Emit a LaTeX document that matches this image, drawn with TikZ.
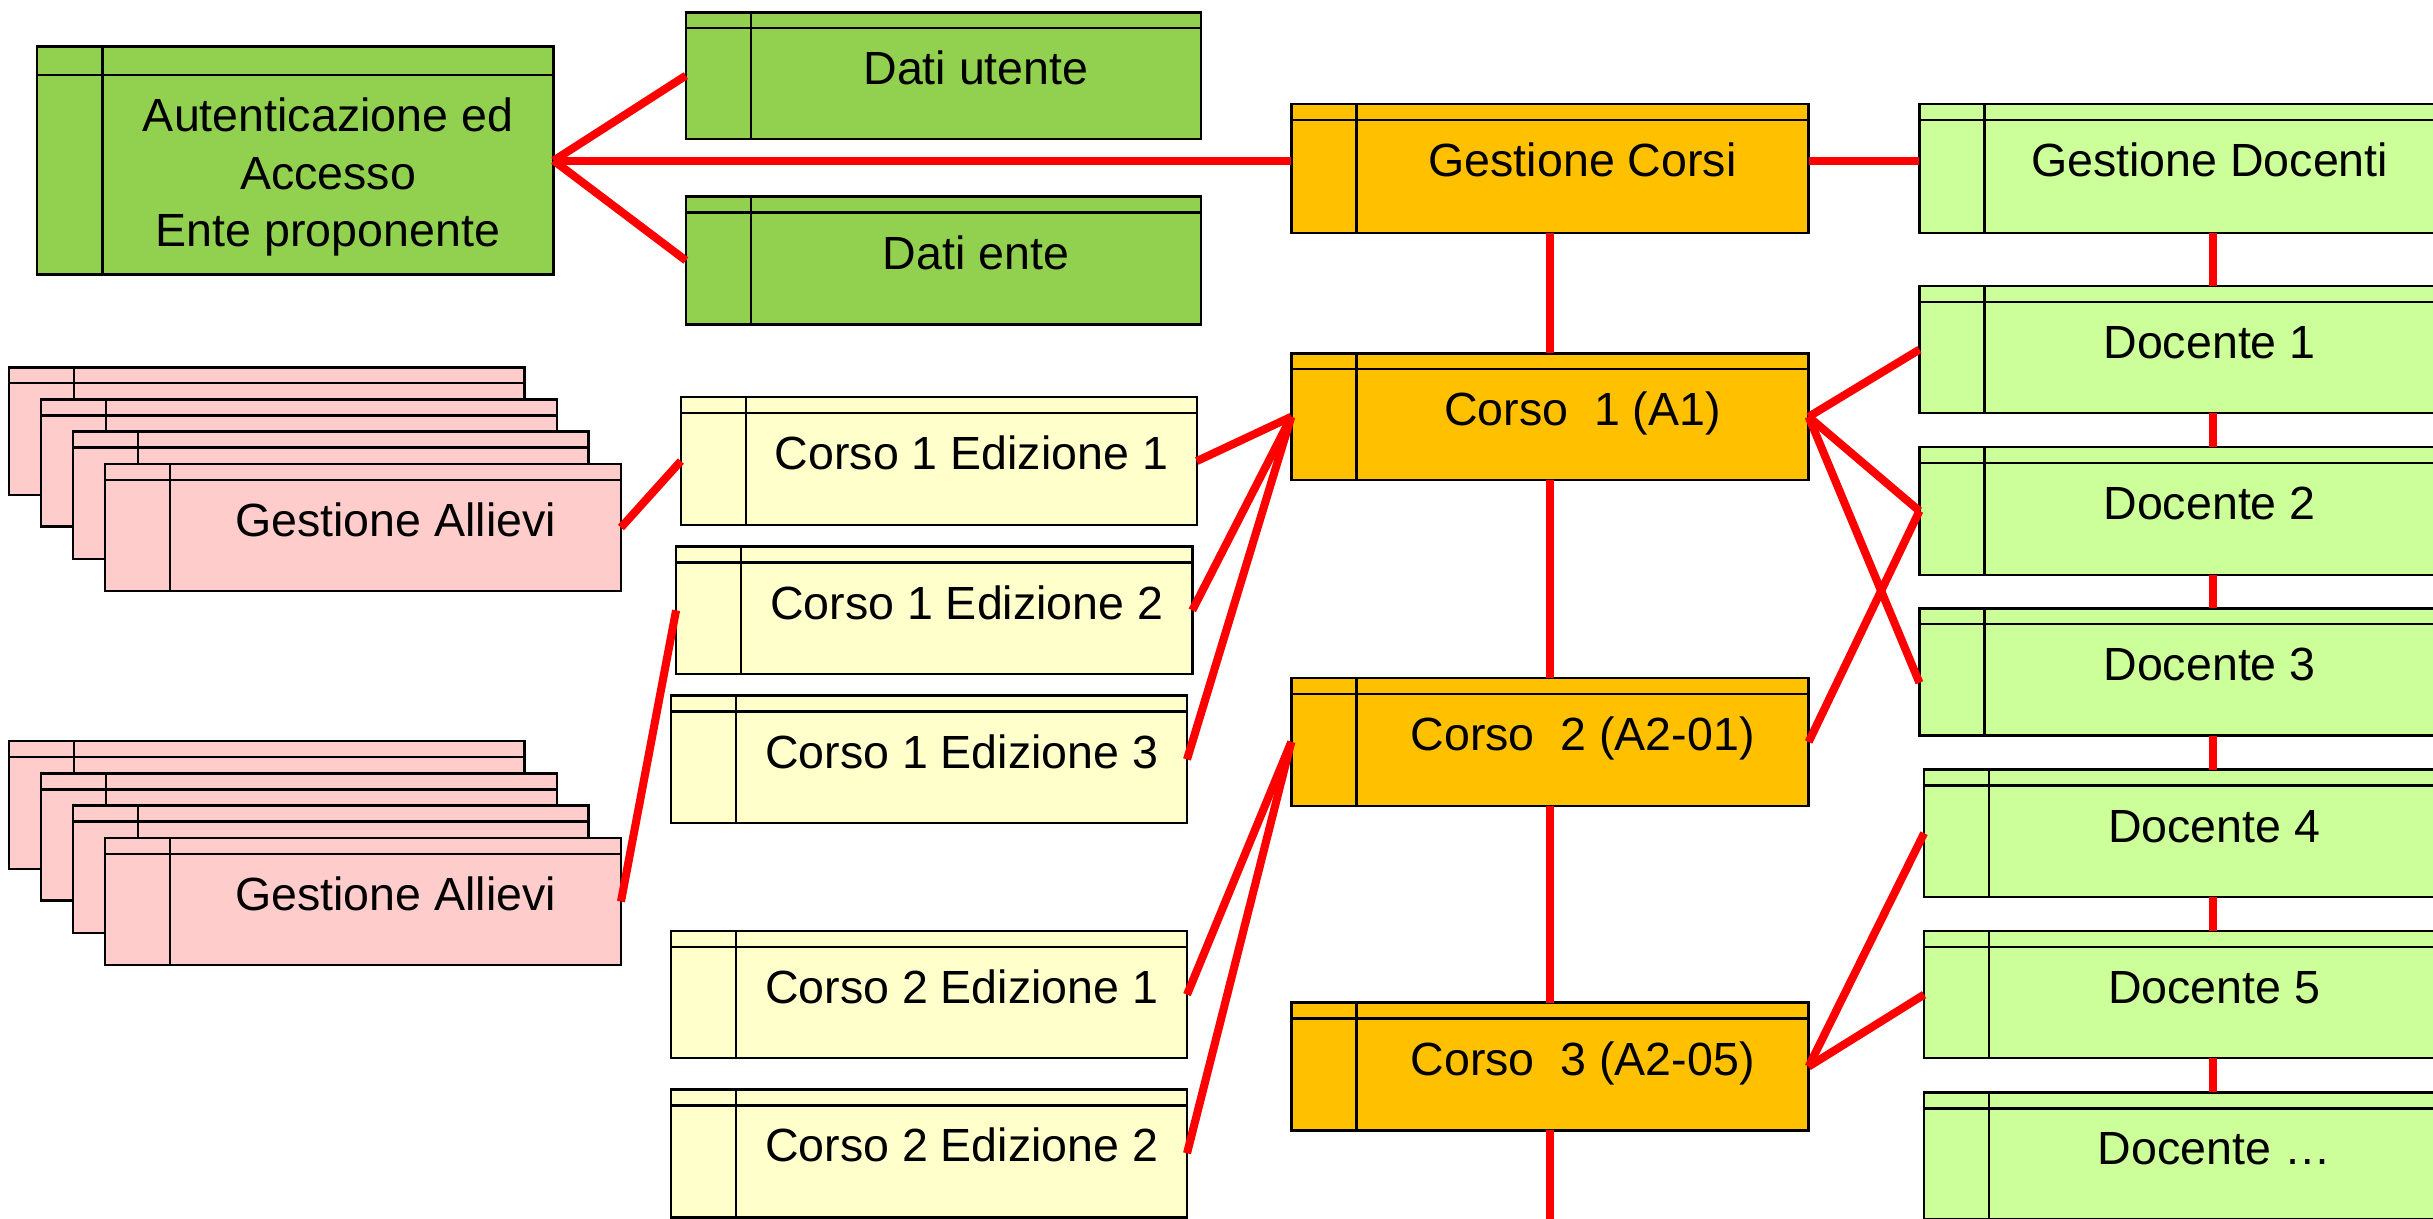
\documentclass[tikz,border=0pt]{standalone}
\usepackage{fontspec}
\setmainfont{Liberation Sans}
\usetikzlibrary{calc}
\definecolor{authgreen}{HTML}{92D050}
\definecolor{corsoorange}{HTML}{FFC000}
\definecolor{docgreen}{HTML}{CCFF99}
\definecolor{edyellow}{HTML}{FFFFCC}
\definecolor{allpink}{HTML}{FFCCCC}
\newcommand\umlbox[6]{% name, x1, y1, x2, y2, fill
  \pgfmathsetmacro\ubw{#4-#2}%
  \pgfmathsetmacro\ubh{#5-#3}%
  \pgfmathsetmacro\ubhh{0.125*(#5-#3)}%
  \pgfmathsetmacro\ubcol{0.126*(#4-#2)}%
  \node[ubox, fill=#6, minimum width=\ubw pt, minimum height=\ubh pt] (#1) at ({(#2+#4)/2},{(#3+#5)/2}) {};
  \draw[boxline] ([xshift=\ubcol pt]#1.north west) -- ([xshift=\ubcol pt]#1.south west);
  \draw[boxline] ([yshift=-\ubhh pt]#1.north west) -- ([yshift=-\ubhh pt]#1.north east);
}
\newcommand\boxtext[2]{%
  \node[utext, anchor=base] (#1-t) at ($(#1.north)+(21,46.7)$) {#2};
}
\begin{document}
\begin{tikzpicture}[x=1pt,y=-1pt,
  ubox/.style={draw=black, line width=1.6pt, inner sep=0pt, outer sep=0pt, rectangle},
  boxline/.style={draw=black, line width=1.6pt},
  utext/.style={font=\fontsize{30}{37.2}\selectfont, inner sep=0pt, align=center, text=black},
  conn/.style={draw=red, line width=5.2pt}]
\useasboundingbox (0,0) rectangle (1568,785);
\clip (0,0) rectangle (1568,785);
% --- green (authentication) ---
\umlbox{auth}{24}{30}{356.8}{177}{authgreen}
\node[utext] (auth-t) at ($(auth.center)+(21,10.6)$) {Autenticazione ed\\Accesso\\Ente proponente};
\umlbox{du}{442}{8}{774}{89.5}{authgreen}
\boxtext{du}{Dati utente}
\umlbox{de}{442}{126.7}{774}{209}{authgreen}
\boxtext{de}{Dati ente}
% --- orange (corsi) ---
\umlbox{gc}{832.2}{67}{1165.6}{150}{corsoorange}
\boxtext{gc}{Gestione Corsi}
\umlbox{c1}{832.2}{227.7}{1165.6}{309.5}{corsoorange}
\boxtext{c1}{Corso\ \ 1 (A1)}
\umlbox{c2}{832.2}{437}{1165.6}{519.3}{corsoorange}
\boxtext{c2}{Corso\ \ 2 (A2-01)}
\umlbox{c3}{832.2}{646.2}{1165.6}{728.5}{corsoorange}
\boxtext{c3}{Corso\ \ 3 (A2-05)}
% --- light green (docenti) ---
\umlbox{gd}{1237}{67}{1569}{150}{docgreen}
\boxtext{gd}{Gestione Docenti}
\umlbox{d1}{1237}{184.3}{1569}{266.3}{docgreen}
\boxtext{d1}{Docente 1}
\umlbox{d2}{1237}{288}{1569}{370.6}{docgreen}
\boxtext{d2}{Docente 2}
\umlbox{d3}{1237}{392}{1569}{474}{docgreen}
\boxtext{d3}{Docente 3}
\umlbox{d4}{1240}{496}{1572}{578}{docgreen}
\boxtext{d4}{Docente 4}
\umlbox{d5}{1240}{600}{1572}{682}{docgreen}
\boxtext{d5}{Docente 5}
\umlbox{dn}{1240}{704}{1572}{786}{docgreen}
\boxtext{dn}{Docente …}
% --- yellow (edizioni) ---
\umlbox{e11}{438.8}{256}{771.3}{338.3}{edyellow}
\boxtext{e11}{Corso 1 Edizione 1}
\umlbox{e12}{435.7}{352.3}{768.4}{434.4}{edyellow}
\boxtext{e12}{Corso 1 Edizione 2}
\umlbox{e13}{432.6}{448.3}{765}{530.5}{edyellow}
\boxtext{e13}{Corso 1 Edizione 3}
\umlbox{e21}{432.6}{600}{765}{682}{edyellow}
\boxtext{e21}{Corso 2 Edizione 1}
\umlbox{e22}{432.6}{702}{765}{784.5}{edyellow}
\boxtext{e22}{Corso 2 Edizione 2}
% --- pink stacks (allievi) ---
\umlbox{pa1}{5.8}{236.7}{338}{319}{allpink}
\umlbox{pa2}{26.5}{257.4}{358.8}{339.4}{allpink}
\umlbox{pa3}{46.9}{278.2}{379.2}{360.3}{allpink}
\umlbox{pa4}{67.6}{299}{400.2}{381}{allpink}
\boxtext{pa4}{Gestione Allievi}
\umlbox{pb1}{5.8}{477.7}{338}{560}{allpink}
\umlbox{pb2}{26.5}{498.4}{358.8}{580.4}{allpink}
\umlbox{pb3}{46.9}{519.2}{379.2}{601.3}{allpink}
\umlbox{pb4}{67.6}{540}{400.2}{622}{allpink}
\boxtext{pb4}{Gestione Allievi}
% --- connectors ---
\coordinate (bottomend) at (998.9,792);
\coordinate (dline) at (1426,0);
\draw[conn] (auth.east) -- (du.west);
\draw[conn] (auth.east) -- (de.west);
\draw[conn] (auth.east) -- (auth.east -| gc.west);
\draw[conn] (gc.east |- auth.east) -- (gd.west |- auth.east);
\draw[conn] (gc.south) -- (c1.north);
\draw[conn] (c1.south) -- (c2.north);
\draw[conn] (c2.south) -- (c3.north);
\draw[conn] (c3.south) -- (c3.south |- bottomend);
\draw[conn] (gd.south -| dline) -- (d1.north -| dline);
\draw[conn] (d1.south -| dline) -- (d2.north -| dline);
\draw[conn] (d2.south -| dline) -- (d3.north -| dline);
\draw[conn] (d3.south -| dline) -- (d4.north -| dline);
\draw[conn] (d4.south -| dline) -- (d5.north -| dline);
\draw[conn] (d5.south -| dline) -- (dn.north -| dline);
\draw[conn] (c1.west) -- (e11.east);
\draw[conn] (c1.west) -- (e12.east);
\draw[conn] (c1.west) -- (e13.east);
\draw[conn] (c2.west) -- (e21.east);
\draw[conn] (c2.west) -- (e22.east);
\draw[conn] (c1.east) -- (d1.west);
\draw[conn] (c1.east) -- (d2.west);
\draw[conn] (c1.east) -- ($(d3.west)+(0,7)$);
\draw[conn] (c2.east) -- (d2.west);
\draw[conn] (c3.east) -- (d4.west);
\draw[conn] (c3.east) -- (d5.west);
\draw[conn] (pa4.east) -- (e11.west);
\draw[conn] (pb4.east) -- (e12.west);
\end{tikzpicture}
\end{document}
